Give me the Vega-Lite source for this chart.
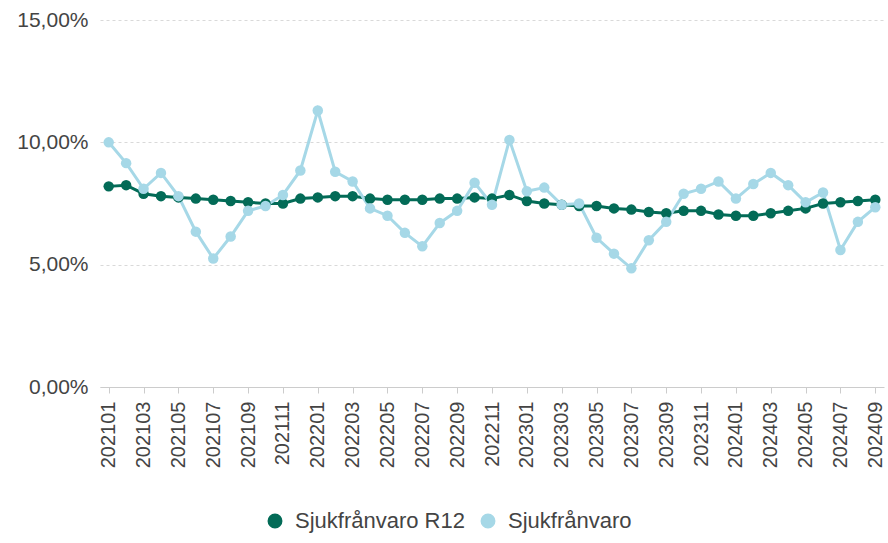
{
  "$schema": "https://vega.github.io/schema/vega-lite/v6.json",
  "width": 784,
  "height": 367,
  "autosize": {"type": "none"},
  "padding": {"left": 100, "top": 20, "right": 4, "bottom": 156},
  "background": "white",
  "config": {
    "font": "Liberation Sans",
    "view": {"stroke": null}
  },
  "data": {
    "values": [
      {"m":"202101","s":"Sjukfrånvaro R12","v":8.2},{"m":"202101","s":"Sjukfrånvaro","v":10.0},
      {"m":"202102","s":"Sjukfrånvaro R12","v":8.25},{"m":"202102","s":"Sjukfrånvaro","v":9.15},
      {"m":"202103","s":"Sjukfrånvaro R12","v":7.9},{"m":"202103","s":"Sjukfrånvaro","v":8.1},
      {"m":"202104","s":"Sjukfrånvaro R12","v":7.8},{"m":"202104","s":"Sjukfrånvaro","v":8.75},
      {"m":"202105","s":"Sjukfrånvaro R12","v":7.75},{"m":"202105","s":"Sjukfrånvaro","v":7.8},
      {"m":"202106","s":"Sjukfrånvaro R12","v":7.7},{"m":"202106","s":"Sjukfrånvaro","v":6.35},
      {"m":"202107","s":"Sjukfrånvaro R12","v":7.65},{"m":"202107","s":"Sjukfrånvaro","v":5.25},
      {"m":"202108","s":"Sjukfrånvaro R12","v":7.6},{"m":"202108","s":"Sjukfrånvaro","v":6.15},
      {"m":"202109","s":"Sjukfrånvaro R12","v":7.55},{"m":"202109","s":"Sjukfrånvaro","v":7.2},
      {"m":"202110","s":"Sjukfrånvaro R12","v":7.5},{"m":"202110","s":"Sjukfrånvaro","v":7.4},
      {"m":"202111","s":"Sjukfrånvaro R12","v":7.5},{"m":"202111","s":"Sjukfrånvaro","v":7.85},
      {"m":"202112","s":"Sjukfrånvaro R12","v":7.7},{"m":"202112","s":"Sjukfrånvaro","v":8.85},
      {"m":"202201","s":"Sjukfrånvaro R12","v":7.75},{"m":"202201","s":"Sjukfrånvaro","v":11.3},
      {"m":"202202","s":"Sjukfrånvaro R12","v":7.8},{"m":"202202","s":"Sjukfrånvaro","v":8.8},
      {"m":"202203","s":"Sjukfrånvaro R12","v":7.8},{"m":"202203","s":"Sjukfrånvaro","v":8.4},
      {"m":"202204","s":"Sjukfrånvaro R12","v":7.7},{"m":"202204","s":"Sjukfrånvaro","v":7.3},
      {"m":"202205","s":"Sjukfrånvaro R12","v":7.65},{"m":"202205","s":"Sjukfrånvaro","v":7.0},
      {"m":"202206","s":"Sjukfrånvaro R12","v":7.65},{"m":"202206","s":"Sjukfrånvaro","v":6.3},
      {"m":"202207","s":"Sjukfrånvaro R12","v":7.65},{"m":"202207","s":"Sjukfrånvaro","v":5.75},
      {"m":"202208","s":"Sjukfrånvaro R12","v":7.7},{"m":"202208","s":"Sjukfrånvaro","v":6.7},
      {"m":"202209","s":"Sjukfrånvaro R12","v":7.7},{"m":"202209","s":"Sjukfrånvaro","v":7.2},
      {"m":"202210","s":"Sjukfrånvaro R12","v":7.75},{"m":"202210","s":"Sjukfrånvaro","v":8.35},
      {"m":"202211","s":"Sjukfrånvaro R12","v":7.7},{"m":"202211","s":"Sjukfrånvaro","v":7.45},
      {"m":"202212","s":"Sjukfrånvaro R12","v":7.85},{"m":"202212","s":"Sjukfrånvaro","v":10.1},
      {"m":"202301","s":"Sjukfrånvaro R12","v":7.6},{"m":"202301","s":"Sjukfrånvaro","v":8.0},
      {"m":"202302","s":"Sjukfrånvaro R12","v":7.5},{"m":"202302","s":"Sjukfrånvaro","v":8.15},
      {"m":"202303","s":"Sjukfrånvaro R12","v":7.45},{"m":"202303","s":"Sjukfrånvaro","v":7.45},
      {"m":"202304","s":"Sjukfrånvaro R12","v":7.4},{"m":"202304","s":"Sjukfrånvaro","v":7.5},
      {"m":"202305","s":"Sjukfrånvaro R12","v":7.4},{"m":"202305","s":"Sjukfrånvaro","v":6.1},
      {"m":"202306","s":"Sjukfrånvaro R12","v":7.3},{"m":"202306","s":"Sjukfrånvaro","v":5.45},
      {"m":"202307","s":"Sjukfrånvaro R12","v":7.25},{"m":"202307","s":"Sjukfrånvaro","v":4.85},
      {"m":"202308","s":"Sjukfrånvaro R12","v":7.15},{"m":"202308","s":"Sjukfrånvaro","v":6.0},
      {"m":"202309","s":"Sjukfrånvaro R12","v":7.1},{"m":"202309","s":"Sjukfrånvaro","v":6.75},
      {"m":"202310","s":"Sjukfrånvaro R12","v":7.2},{"m":"202310","s":"Sjukfrånvaro","v":7.9},
      {"m":"202311","s":"Sjukfrånvaro R12","v":7.2},{"m":"202311","s":"Sjukfrånvaro","v":8.1},
      {"m":"202312","s":"Sjukfrånvaro R12","v":7.05},{"m":"202312","s":"Sjukfrånvaro","v":8.4},
      {"m":"202401","s":"Sjukfrånvaro R12","v":7.0},{"m":"202401","s":"Sjukfrånvaro","v":7.7},
      {"m":"202402","s":"Sjukfrånvaro R12","v":7.0},{"m":"202402","s":"Sjukfrånvaro","v":8.3},
      {"m":"202403","s":"Sjukfrånvaro R12","v":7.1},{"m":"202403","s":"Sjukfrånvaro","v":8.75},
      {"m":"202404","s":"Sjukfrånvaro R12","v":7.2},{"m":"202404","s":"Sjukfrånvaro","v":8.25},
      {"m":"202405","s":"Sjukfrånvaro R12","v":7.3},{"m":"202405","s":"Sjukfrånvaro","v":7.55},
      {"m":"202406","s":"Sjukfrånvaro R12","v":7.5},{"m":"202406","s":"Sjukfrånvaro","v":7.95},
      {"m":"202407","s":"Sjukfrånvaro R12","v":7.55},{"m":"202407","s":"Sjukfrånvaro","v":5.6},
      {"m":"202408","s":"Sjukfrånvaro R12","v":7.6},{"m":"202408","s":"Sjukfrånvaro","v":6.75},
      {"m":"202409","s":"Sjukfrånvaro R12","v":7.65},{"m":"202409","s":"Sjukfrånvaro","v":7.35}
    ]
  },
  "encoding": {
    "x": {
      "field": "m", "type": "ordinal",
      "scale": {"type": "point", "padding": 0.5},
      "axis": {
        "title": null,
        "values": ["202101","202103","202105","202107","202109","202111","202201","202203","202205","202207","202209","202211","202301","202303","202305","202307","202309","202311","202401","202403","202405","202407","202409"],
        "labelAngle": -90,
        "labelFontSize": 20,
        "labelColor": "#444444",
        "labelPadding": 8,
        "domainColor": "#cccccc",
        "tickColor": "#cccccc",
        "tickSize": 6,
        "grid": false
      }
    },
    "y": {
      "field": "v", "type": "quantitative",
      "scale": {"domain": [0, 15], "nice": false},
      "axis": {
        "title": null,
        "values": [0, 5, 10, 15],
        "labelExpr": "replace(format(datum.value, '.2f'), '.', ',') + '%'",
        "labelFontSize": 21,
        "labelColor": "#444444",
        "labelPadding": 12,
        "domain": false,
        "ticks": false,
        "gridColor": "#d9d9d9",
        "gridDash": [3, 3]
      }
    },
    "color": {
      "field": "s", "type": "nominal",
      "sort": ["Sjukfrånvaro R12", "Sjukfrånvaro"],
      "scale": {"domain": ["Sjukfrånvaro R12", "Sjukfrånvaro"], "range": ["#036b57", "#a6d8e7"]},
      "legend": {
        "title": null,
        "orient": "none",
        "legendX": 164,
        "legendY": 490,
        "direction": "horizontal",
        "symbolType": "circle",
        "symbolSize": 180,
        "labelFontSize": 22,
        "labelLimit": 400,
        "labelColor": "#444444",
        "labelOffset": 9,
        "columnPadding": 12
      }
    }
  },
  "layer": [
    {"mark": {"type": "line", "strokeWidth": 3}},
    {"mark": {"type": "point", "filled": true, "size": 110, "opacity": 1}}
  ]
}
